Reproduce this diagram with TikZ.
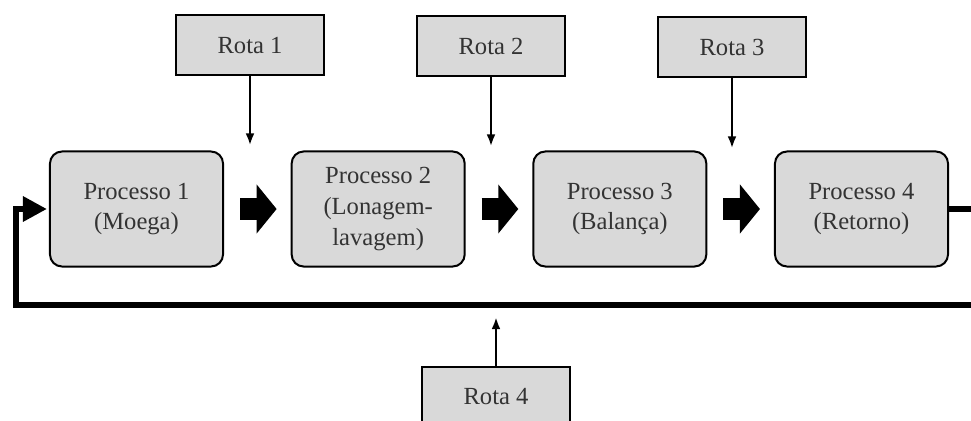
\documentclass[tikz,border=0pt]{standalone}
\usepackage{fontspec}
\setmainfont{Liberation Serif}
\usepackage{tikz}
\usetikzlibrary{arrows.meta, calc, positioning}

\begin{document}
\begin{tikzpicture}[x=0.025cm, y=-0.025cm, >={Latex[length=0.3cm, width=0.22cm]},
    proc/.style={draw, line width=0.05cm, fill=black!15, rounded corners=0.3cm,
      minimum width=4.325cm, minimum height=2.875cm, align=center,
      text=black!80, font=\fontsize{17.5}{22}\selectfont},
    rota/.style={draw, line width=0.05cm, fill=black!15,
      minimum width=3.675cm, minimum height=1.475cm,
      text=black!80, font=\fontsize{17.5}{22}\selectfont},
    route/.style={->, line width=0.06cm},
    flow/.style={-{Triangle[length=0.5cm, width=1.2cm]}, line width=0.525cm,
      shorten <=0.4cm, shorten >=0.35cm},
    loopback/.style={-{Triangle[length=0.6cm, width=0.6cm]}, line width=0.17cm}]
  \useasboundingbox (0,0) rectangle (971,420);

  \node[proc] (p1) at (136.5,209) {Processo 1\\(Moega)};
  \node[proc, right = 1.665cm of p1] (p2) {Processo 2\\(Lonagem-\\lavagem)};
  \node[proc, right = 1.665cm of p2] (p3) {Processo 3\\(Balança)};
  \node[proc, right = 1.665cm of p3] (p4) {Processo 4\\(Retorno)};

  \node[rota] (r1) at (250,45) {Rota 1};
  \node[rota] (r2) at (491,46) {Rota 2};
  \node[rota] (r3) at (732,47) {Rota 3};
  \node[rota] (r4) at (496,397) {Rota 4};

  % rotas
  \draw[route, shorten >=0.125cm] (r1) -- (r1 |- p1.north);
  \draw[route, shorten >=0.1cm] (r2) -- (r2 |- p2.north);
  \draw[route, shorten >=0.05cm] (r3) -- (r3 |- p3.north);

  % fluxo
  \draw[flow] (p1) -- (p2);
  \draw[flow] (p2) -- (p3);
  \draw[flow] (p3) -- (p4);

  % retorno
  \coordinate (turnR) at (990,305);
  \coordinate (turnL) at (16,305);
  \draw[loopback, shorten >=0.05cm] (p4.east) -| (turnR) -- (turnL) |- (p1.west);
  \draw[route, shorten >=0.3cm] (r4) -- (r4 |- turnL);
\end{tikzpicture}
\end{document}
